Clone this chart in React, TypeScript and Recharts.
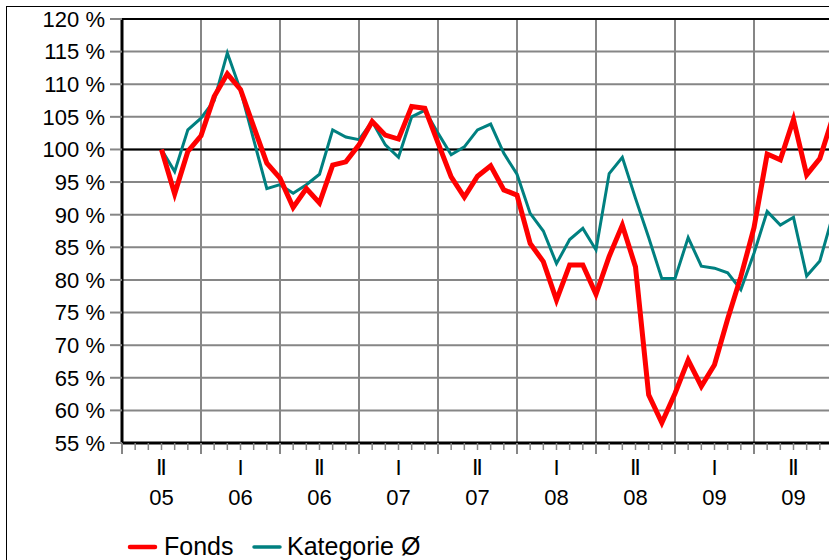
import React from "react";
import {
  LineChart,
  Line,
  XAxis,
  YAxis,
  CartesianGrid,
  ReferenceLine,
} from "recharts";

// month index 0 = start of the "II 05" half-year; first value sits at month 3
const firstMonth = 3;

const fonds = [
  100.0, 93.2, 99.7, 102.1, 108.1, 111.6, 109.2, 103.5, 97.9, 95.6, 91.1, 94.0,
  91.8, 97.6, 98.1, 100.7, 104.3, 102.2, 101.6, 106.6, 106.3, 101.0, 95.8, 92.7,
  95.9, 97.5, 93.8, 93.0, 85.6, 82.8, 76.9, 82.3, 82.3, 77.8, 83.6, 88.4, 82.0,
  62.4, 58.1, 62.6, 67.7, 63.7, 67.0, 74.0, 80.5, 88.0, 99.3, 98.4, 104.6, 96.1,
  98.6, 105.0,
];

const kategorie = [
  100.0, 96.6, 103.0, 104.8, 107.5, 114.8, 109.1, 101.5, 94.0, 94.6, 93.3, 94.6,
  96.2, 103.0, 101.9, 101.5, 104.3, 100.7, 98.8, 105.0, 106.0, 102.5, 99.2,
  100.4, 103.0, 103.9, 99.4, 96.2, 90.2, 87.5, 82.5, 86.2, 87.9, 84.6, 96.3,
  98.8, 92.5, 86.5, 80.2, 80.2, 86.5, 82.1, 81.8, 81.1, 78.5, 84.1, 90.5, 88.4,
  89.6, 80.6, 82.9, 90.0,
];

const halfYears = ["Ⅱ", "I", "Ⅱ", "I", "Ⅱ", "I", "Ⅱ", "I", "Ⅱ"];
const years = ["05", "06", "06", "07", "07", "08", "08", "09", "09"];

const yTicks = [55, 60, 65, 70, 75, 80, 85, 90, 95, 100, 105, 110, 115, 120];

const data = fonds.map((v, i) => ({
  month: firstMonth + i,
  fonds: v,
  kategorie: kategorie[i],
}));

const monthCount = halfYears.length * 6;
const monthTicks = Array.from({ length: monthCount + 1 }, (_, i) => i);
const halfBounds = monthTicks.filter((m) => m % 6 === 0 && m > 0);

const FONT = '"Liberation Sans", Arial, sans-serif';
const GRID = "#868686";

const MonthTick = (props: any) => {
  const { x, y, payload } = props;
  const m = payload.value as number;
  const major = m % 6 === 0;
  const idx = (m - 3) / 6;
  const showLabel = m % 6 === 3 && idx < halfYears.length;
  return (
    <g>
      <line
        x1={x}
        x2={x}
        y1={y}
        y2={y + (major ? 11 : 7)}
        stroke={GRID}
        strokeWidth={major ? 2 : 1.5}
      />
      {showLabel && (
        <g fontFamily={FONT} fontSize={22} fill="#000" textAnchor="middle">
          <text x={x} y={y + 32}>
            {halfYears[idx]}
          </text>
          <text x={x} y={y + 62}>
            {years[idx]}
          </text>
        </g>
      )}
    </g>
  );
};

const App = () => {
  return (
    <div
      style={{
        position: "fixed",
        left: 0,
        top: 0,
        width: 829,
        height: 560,
        overflow: "hidden",
        background: "#fff",
      }}
    >
      <div
        style={{
          position: "absolute",
          left: 6,
          top: 6,
          width: 900,
          height: 600,
          border: "1px solid #000",
        }}
      />
      <div style={{ position: "absolute", left: 0, top: 0 }}>
        <LineChart
          width={840}
          height={560}
          data={data}
          margin={{ top: 19, right: 7, bottom: 57, left: 0 }}
        >
          <CartesianGrid
            stroke={GRID}
            strokeWidth={2}
            verticalValues={halfBounds}
          />
          <XAxis
            dataKey="month"
            type="number"
            domain={[0, monthCount]}
            ticks={monthTicks}
            interval={0}
            height={60}
            tickSize={0}
            tickMargin={0}
            tickLine={false}
            axisLine={{ stroke: "#000", strokeWidth: 3 }}
            tick={<MonthTick />}
          />
          <YAxis
            type="number"
            domain={[55, 120]}
            ticks={yTicks}
            interval={0}
            width={122}
            tickSize={12}
            tickMargin={5}
            tickLine={{ stroke: GRID, strokeWidth: 2 }}
            axisLine={{ stroke: "#000", strokeWidth: 3 }}
            tick={{ fill: "#000", fontSize: 22, fontFamily: FONT }}
            tickFormatter={(v) => `${v} %`}
          />
          <ReferenceLine y={120} stroke="#000" strokeWidth={2} />
          <ReferenceLine y={100} stroke="#000" strokeWidth={2} />
          <Line
            type="linear"
            dataKey="kategorie"
            stroke="#008080"
            strokeWidth={3}
            dot={false}
            isAnimationActive={false}
          />
          <Line
            type="linear"
            dataKey="fonds"
            stroke="#ff0000"
            strokeWidth={5}
            dot={false}
            isAnimationActive={false}
          />
        </LineChart>
      </div>
      <svg
        width={829}
        height={40}
        style={{ position: "absolute", left: 0, top: 520 }}
        fontFamily={FONT}
        fontSize={25}
      >
        <line x1={130} x2={155} y1={27} y2={27} stroke="#ff0000" strokeWidth={4.5} strokeLinecap="round" />
        <text x={164} y={35} fill="#000">Fonds</text>
        <line x1={254} x2={280} y1={27} y2={27} stroke="#008080" strokeWidth={3.5} strokeLinecap="round" />
        <text x={287} y={35} fill="#000">Kategorie Ø</text>
      </svg>
    </div>
  );
};

export default App;
